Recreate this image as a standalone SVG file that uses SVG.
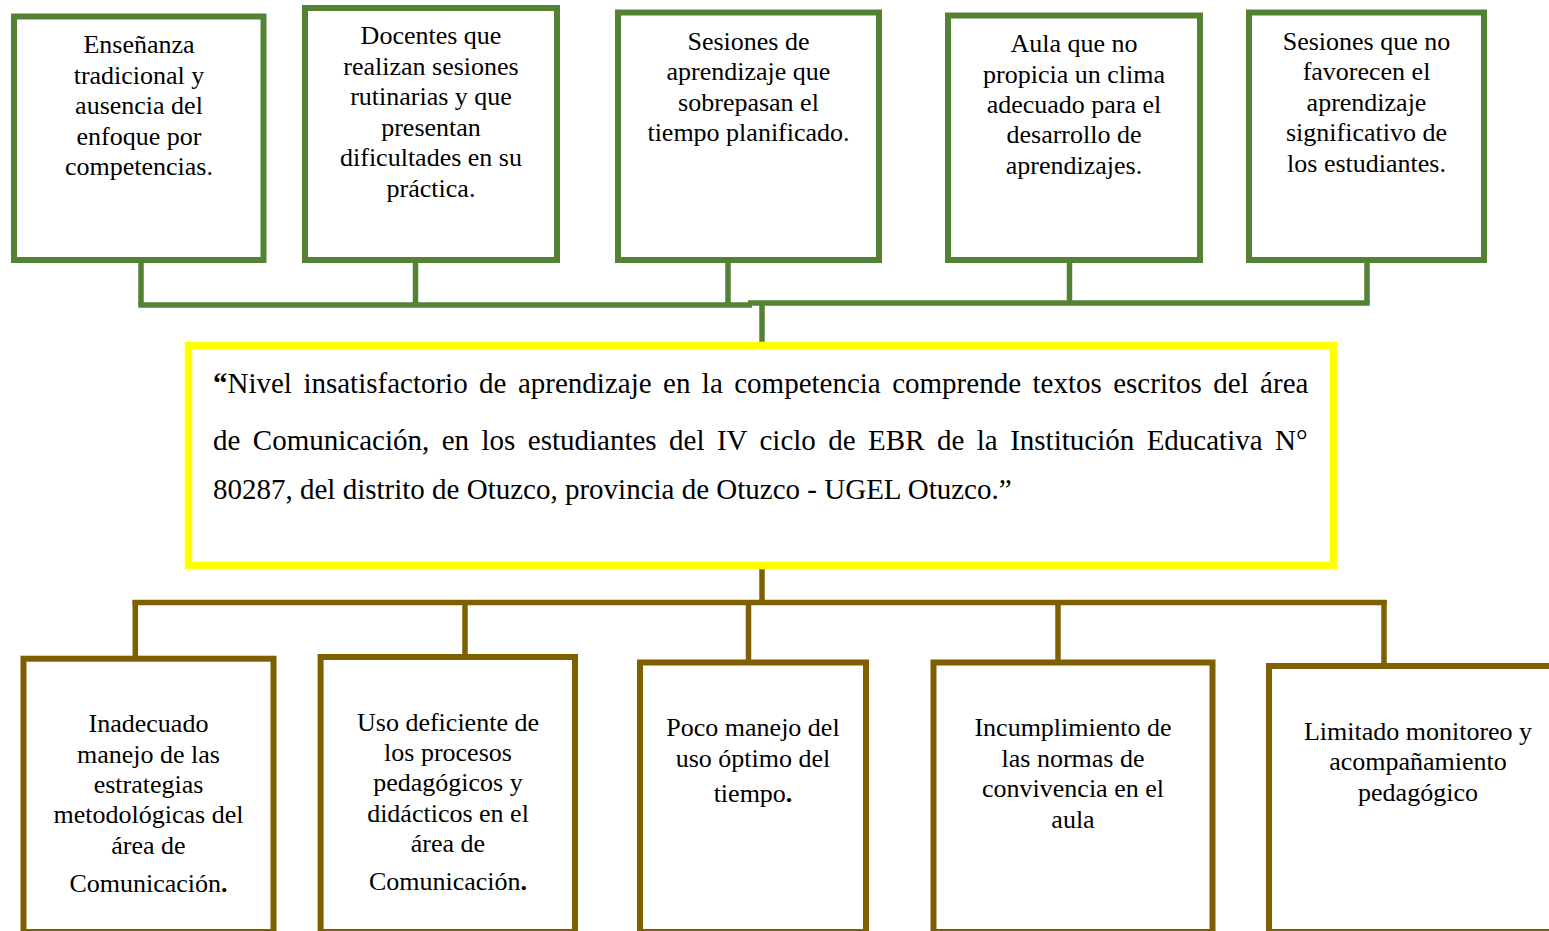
<svg xmlns="http://www.w3.org/2000/svg" width="1549" height="931" viewBox="0 0 1549 931">
<style>
.g{fill:#fff;stroke:#548235;stroke-width:6}
.b{fill:#fff;stroke:#7F6000;stroke-width:6}
.y{fill:#fff;stroke:#FFFF00;stroke-width:7.5}
.gc{stroke:#548235;stroke-width:5.5;fill:none}
.bc{stroke:#7F6000;stroke-width:5.5;fill:none}
text{font-family:"Liberation Serif","Times New Roman",serif;font-size:26px;fill:#000}
.c{text-anchor:middle}
.m{font-size:29px}
</style>
<rect width="1549" height="931" fill="#fff"/>
<g id="connectors">
<line class="gc" x1="141" y1="258" x2="141" y2="305"/>
<line class="gc" x1="415.5" y1="258" x2="415.5" y2="305"/>
<line class="gc" x1="728" y1="258" x2="728" y2="305"/>
<line class="gc" x1="1069.5" y1="258" x2="1069.5" y2="303"/>
<line class="gc" x1="1367" y1="258" x2="1367" y2="303"/>
<line class="gc" x1="138.3" y1="305" x2="752" y2="305"/>
<line class="gc" x1="748" y1="303" x2="1369.7" y2="303"/>
<line class="gc" x1="762" y1="303" x2="762" y2="343"/>
<line class="bc" x1="762" y1="569" x2="762" y2="603"/>
<line class="bc" x1="132.5" y1="602.5" x2="1386.7" y2="602.5"/>
<line class="bc" x1="135.3" y1="600" x2="135.3" y2="657"/>
<line class="bc" x1="465" y1="600" x2="465" y2="655"/>
<line class="bc" x1="748.5" y1="600" x2="748.5" y2="660"/>
<line class="bc" x1="1058" y1="600" x2="1058" y2="660"/>
<line class="bc" x1="1384" y1="600" x2="1384" y2="664"/>
</g>
<g id="t1">
<rect class="g" x="14" y="16.5" width="249.5" height="243.5"/>
<text class="c" x="139"><tspan x="139" y="53.3">Enseñanza</tspan><tspan x="139" y="84">tradicional y</tspan><tspan x="139" y="114.3">ausencia del</tspan><tspan x="139" y="144.6">enfoque por</tspan><tspan x="139" y="175">competencias.</tspan></text>
</g>
<g id="t2">
<rect class="g" x="305" y="8" width="252" height="252"/>
<text class="c" x="431"><tspan x="431" y="44">Docentes que</tspan><tspan x="431" y="74.5">realizan sesiones</tspan><tspan x="431" y="105">rutinarias y que</tspan><tspan x="431" y="135.5">presentan</tspan><tspan x="431" y="166">dificultades en su</tspan><tspan x="431" y="196.5">práctica.</tspan></text>
</g>
<g id="t3">
<rect class="g" x="618" y="12.5" width="261" height="247.5"/>
<text class="c" x="748.5"><tspan x="748.5" y="49.5">Sesiones de</tspan><tspan x="748.5" y="80">aprendizaje que</tspan><tspan x="748.5" y="110.5">sobrepasan el</tspan><tspan x="748.5" y="141">tiempo planificado.</tspan></text>
</g>
<g id="t4">
<rect class="g" x="948" y="15.5" width="252" height="244.5"/>
<text class="c" x="1074"><tspan x="1074" y="52">Aula que no</tspan><tspan x="1074" y="82.5">propicia un clima</tspan><tspan x="1074" y="113">adecuado para el</tspan><tspan x="1074" y="143">desarrollo de</tspan><tspan x="1074" y="173.5">aprendizajes.</tspan></text>
</g>
<g id="t5">
<rect class="g" x="1249" y="12.5" width="235" height="247.5"/>
<text class="c" x="1366.5"><tspan x="1366.5" y="49.5">Sesiones que no</tspan><tspan x="1366.5" y="80">favorecen el</tspan><tspan x="1366.5" y="110.5">aprendizaje</tspan><tspan x="1366.5" y="141">significativo de</tspan><tspan x="1366.5" y="171.5">los estudiantes.</tspan></text>
</g>
<g id="problem">
<rect class="y" x="188.5" y="345.5" width="1145" height="220"/>
<text class="m" x="213" y="393" style="word-spacing:4.2px"><tspan font-weight="bold">“</tspan>Nivel insatisfactorio de aprendizaje en la competencia comprende textos escritos del área</text>
<text class="m" x="213" y="450" style="word-spacing:5.2px">de Comunicación, en los estudiantes del IV ciclo de EBR de la Institución Educativa N°</text>
<text class="m" x="213" y="499">80287, del distrito de Otuzco, provincia de Otuzco - UGEL Otuzco.”</text>
</g>
<g id="b1">
<rect class="b" x="23.5" y="658.7" width="250" height="273.3"/>
<text class="c" x="148.5"><tspan x="148.5" y="732">Inadecuado</tspan><tspan x="148.5" y="762.5">manejo de las</tspan><tspan x="148.5" y="792.5">estrategias</tspan><tspan x="148.5" y="823">metodológicas del</tspan><tspan x="148.5" y="854">área de</tspan><tspan x="148.5" y="892">Comunicación<tspan font-weight="bold">.</tspan></tspan></text>
</g>
<g id="b2">
<rect class="b" x="320.6" y="657" width="254.4" height="275"/>
<text class="c" x="448"><tspan x="448" y="731">Uso deficiente de</tspan><tspan x="448" y="761">los procesos</tspan><tspan x="448" y="791">pedagógicos y</tspan><tspan x="448" y="822">didácticos en el</tspan><tspan x="448" y="852">área de</tspan><tspan x="448" y="890">Comunicación<tspan font-weight="bold">.</tspan></tspan></text>
</g>
<g id="b3">
<rect class="b" x="640" y="662.5" width="226" height="269.5"/>
<text class="c" x="753"><tspan x="753" y="736">Poco manejo del</tspan><tspan x="753" y="767">uso óptimo del</tspan><tspan x="753" y="802">tiempo<tspan font-weight="bold">.</tspan></tspan></text>
</g>
<g id="b4">
<rect class="b" x="933.5" y="662.5" width="279" height="269.5"/>
<text class="c" x="1073"><tspan x="1073" y="736">Incumplimiento de</tspan><tspan x="1073" y="767">las normas de</tspan><tspan x="1073" y="797">convivencia en el</tspan><tspan x="1073" y="828">aula</tspan></text>
</g>
<g id="b5">
<rect class="b" x="1269" y="666" width="297" height="266"/>
<text class="c" x="1418"><tspan x="1418" y="739.5">Limitado monitoreo y</tspan><tspan x="1418" y="770">acompañamiento</tspan><tspan x="1418" y="801">pedagógico</tspan></text>
</g>
</svg>
